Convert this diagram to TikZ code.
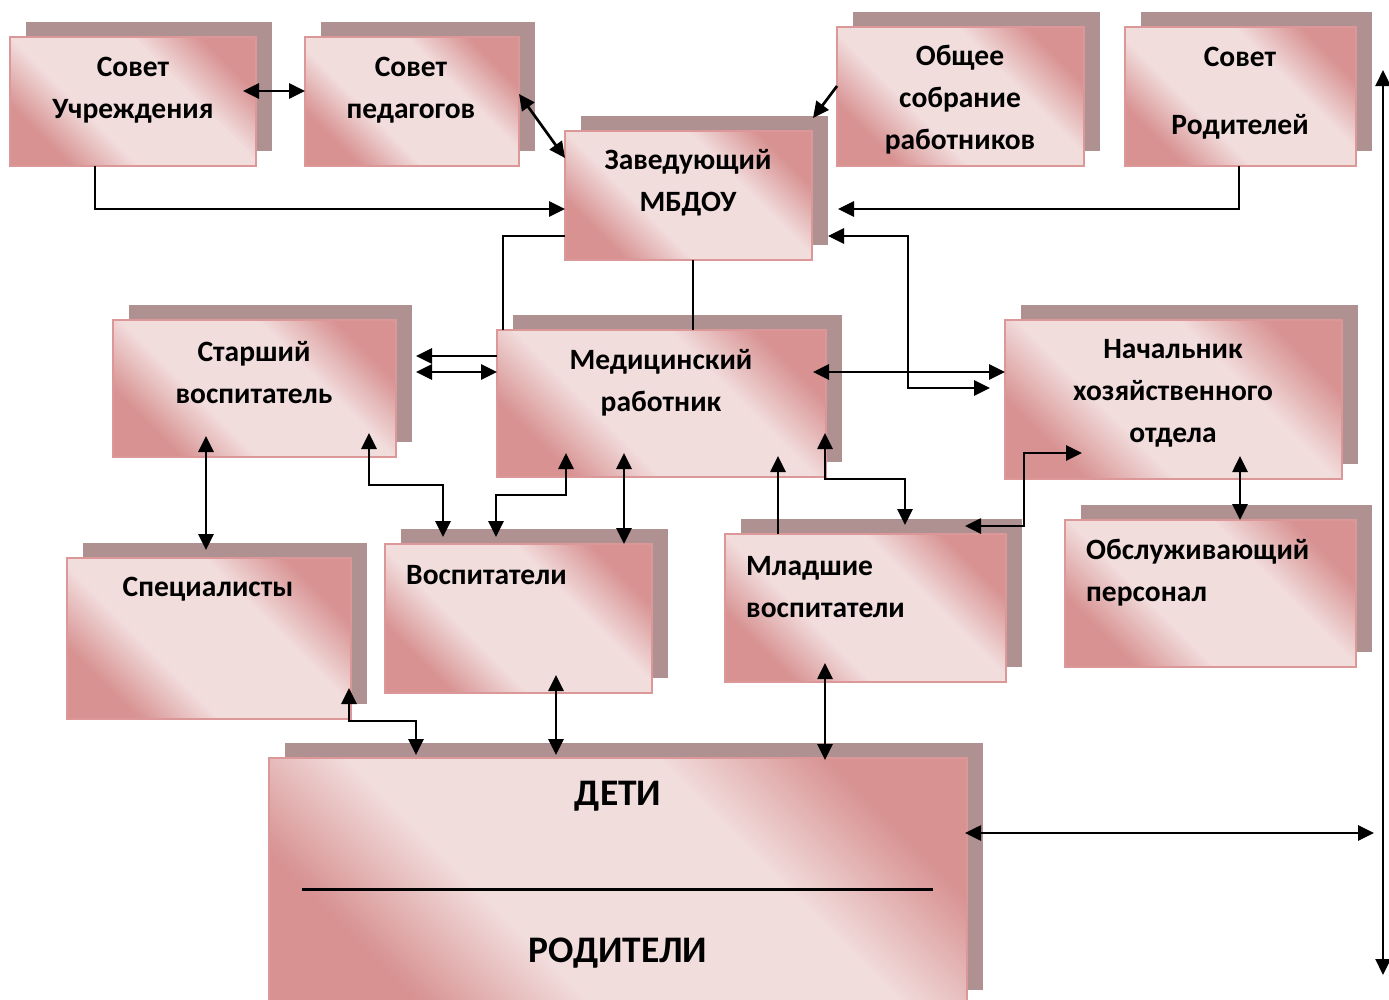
\documentclass[tikz,border=0pt]{standalone}
\usepackage{fontspec}
\setmainfont{Carlito}
\usetikzlibrary{arrows.meta,calc,shadows}
\definecolor{dk}{RGB}{216,146,146}
\definecolor{lt}{RGB}{242,221,221}
\definecolor{shc}{RGB}{175,145,145}
\definecolor{bdc}{RGB}{220,152,152}
\pgfdeclarehorizontalshading{boxshade}{100bp}{color(0bp)=(dk); color(26bp)=(dk); color(39bp)=(lt); color(62bp)=(lt); color(75bp)=(dk); color(100bp)=(dk)}
\tikzset{
  bx/.style={anchor=north west, inner sep=0pt, outer sep=0pt, draw=bdc, line width=1.6pt,
    shading=boxshade, shading angle=45,
    general shadow={fill=shc, shadow xshift=16pt, shadow yshift=15pt}},
  txt/.style={font=\bfseries\fontsize{29.5}{42}\selectfont, align=center, inner sep=0pt},
  txtl/.style={txt, align=left, anchor=west},
  big/.style={font=\bfseries\fontsize{37.5}{44}\selectfont, inner sep=0pt},
  ln/.style={line width=2.7pt},
  arr1/.style={ln, -{Triangle[length=16pt,width=15pt]}},
  arr2/.style={ln, {Triangle[length=16pt,width=15pt]}-{Triangle[length=16pt,width=15pt]}},
}
\newcommand\obox[5]{\node[bx, minimum width={(#4-#2)*1pt}, minimum height={(#5-#3)*1pt}] (#1) at (#2,#3) {};}
\begin{document}
\begin{tikzpicture}[x=1pt,y=-1pt]
\useasboundingbox (0,0) rectangle (1389,999);
% boxes
\obox{A}{10}{37}{256}{166}
\obox{B}{305}{37}{519}{166}
\obox{C}{837}{27}{1084}{166}
\obox{D}{1125}{27}{1356}{166}
\obox{E}{565}{131}{812}{260}
\obox{F}{113}{320}{396}{457}
\obox{G}{497}{330}{826}{477}
\obox{H}{1005}{320}{1342}{479}
\obox{I}{67}{558}{351}{719}
\obox{J}{385}{544}{652}{693}
\obox{K}{725}{534}{1006}{682}
\obox{L}{1065}{520}{1356}{667}
\obox{M}{269}{758}{967}{1005}
% texts
\node[txt] (tA) at (133,90) {Совет\\Учреждения};
\node[txt] (tB) at (411,90) {Совет\\педагогов};
\node[txt] (tC) at (960,100) {Общее\\собрание\\работников};
\node[txt] (tD) at (1240,93) {Совет\\[26pt]Родителей};
\node[txt] (tE) at (688,183) {Заведующий\\МБДОУ};
\node[txt] (tF) at (254,373) {Старший\\воспитатель};
\node[txt] (tG) at (661,383) {Медицинский\\работник};
\node[txt] (tH) at (1173,393) {Начальник\\хозяйственного\\отдела};
\node[txt] (tI) at (208,589) {Специалисты};
\node[txtl] (tJ) at (406,575) {Воспитатели};
\node[txtl] (tK) at (746,587) {Младшие\\воспитатели};
\node[txtl] (tL) at (1086,573) {Обслуживающий\\персонал};
\node[big] (tM1) at (618,796) {ДЕТИ};
\node[big] (tM2) at (618,953) {РОДИТЕЛИ};
\draw[line width=3pt] ($(M.west |- 0,889)+(33,0)$) -- ($(M.east |- 0,889)+(-34,0)$);
% connectors
\draw[arr2] ($(A.east |- 0,91)+(-13,0)$) -- (B.west |- 0,91);
\draw[arr2] (B.east |- 0,94) -- (E.west |- 0,158);
\draw[arr1] (C.west |- 0,86) -- ($(E.north east)+(1,-13)$);
\draw[arr1] (95,0 |- A.south) |- (E.west |- 0,209);
\draw[arr1] (1239,0 |- D.south) |- ($(E.east |- 0,209)+(26,0)$);
\draw[ln] (E.west |- 0,236) -| (503,0 |- G.north);
\draw[ln] (693,0 |- E.south) -- (693,0 |- G.north);
\draw[arr2] ($(E.east |- 0,236)+(16,0)$) -| (908,388) -- ($(H.west |- 0,388)+(-15,0)$);
\draw[arr2] ($(G.east |- 0,372)+(-13,0)$) -- (H.west |- 0,372);
\draw[arr1] (G.west |- 0,356) -- ($(F.east |- 0,356)+(20,0)$);
\draw[arr2] ($(F.east |- 0,372)+(20,0)$) -- (G.west |- 0,372);
\draw[arr2] ($(206,0 |- F.south)+(0,-21)$) -- ($(206,0 |- I.north)+(0,-8)$);
\draw[arr2] ($(369,0 |- F.south)+(0,-24)$) |- (443,485) -- ($(443,0 |- J.north)+(0,-7)$);
\draw[arr2] ($(566,0 |- G.south)+(0,-24)$) |- (496,495) -- ($(496,0 |- J.north)+(0,-7)$);
\draw[arr2] ($(624,0 |- G.south)+(0,-24)$) -- (624,0 |- J.north);
\draw[arr1] (778,0 |- K.north) -- ($(778,0 |- G.south)+(0,-21)$);
\draw[arr2] ($(825,0 |- G.south)+(0,-44)$) |- (905,479) -- ($(905,0 |- K.north)+(0,-9)$);
\draw[arr2] ($(K.east |- 0,526)+(-41,0)$) -| (1024,453) -- (1082,453);
\draw[arr2] ($(1240,0 |- H.south)+(0,-23)$) -- (1240,0 |- L.north);
\draw[arr2] ($(349,0 |- I.south)+(0,-31)$) |- (416,721) -- ($(416,0 |- M.north)+(0,-3)$);
\draw[arr2] ($(556,0 |- J.south)+(0,-18)$) -- ($(556,0 |- M.north)+(0,-3)$);
\draw[arr2] ($(825,0 |- K.south)+(0,-19)$) -- ($(825,0 |- M.north)+(0,2)$);
\coordinate (rr) at (1374,833);
\coordinate (vt) at (1383,70);
\coordinate (vb) at (1383,975);
\draw[arr2] ($(M.east |- 0,833)+(-2,0)$) -- (rr);
\draw[arr2, line width=2.3pt] (vt) -- (vb);
\end{tikzpicture}
\end{document}
